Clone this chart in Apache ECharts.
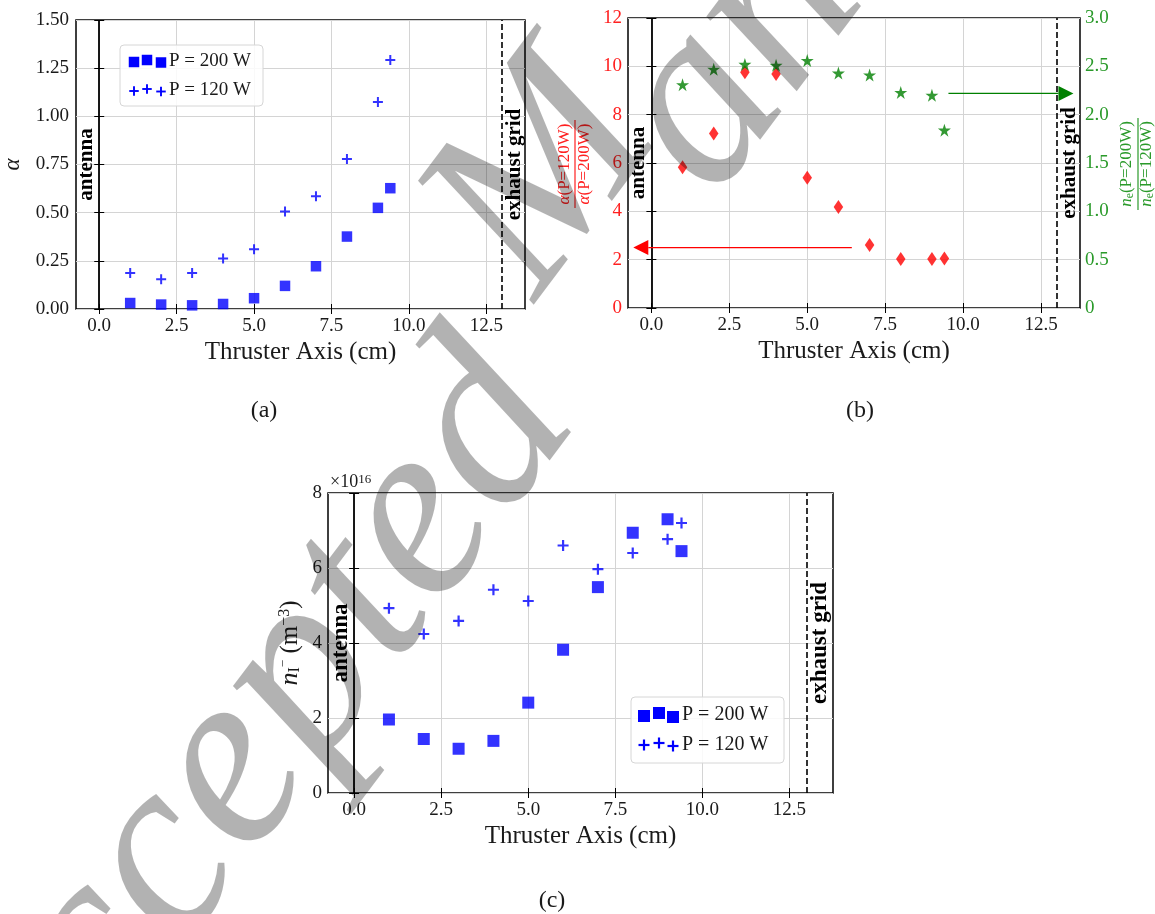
<!DOCTYPE html>
<html><head><meta charset="utf-8">
<script src="https://cdn.jsdelivr.net/npm/echarts@6/dist/echarts.min.js"></script>
<style>html,body{margin:0;padding:0;background:#fff}#c{width:1155px;height:914px}</style>
</head><body><div id="c"></div>
<script>
// ---------------- data ----------------
const positions = [1, 2, 3, 4, 5, 6, 7, 8, 9, 9.4];               // thruster axis (cm)
const alpha200W = [0.031, 0.023, 0.019, 0.026, 0.056, 0.120, 0.222, 0.376, 0.525, 0.627];
const alpha120W = [0.187, 0.154, 0.187, 0.262, 0.310, 0.506, 0.585, 0.779, 1.074, 1.292];
const alphaRatio = [5.82, 7.22, 9.76, 9.68, 5.39, 4.18, 2.61, 2.03, 2.03, 2.05];   // α(120W)/α(200W)
const neRatio = [2.31, 2.47, 2.52, 2.51, 2.56, 2.43, 2.41, 2.23, 2.20, 1.84];       // ne(200W)/ne(120W)
const nIon200W_e16 = [1.96, 1.44, 1.18, 1.39, 2.41, 3.82, 5.49, 6.94, 7.30, 6.45]; // ×1e16 m^-3
const nIon120W_e16 = [4.93, 4.24, 4.59, 5.42, 5.12, 6.60, 5.97, 6.40, 6.77, 7.20];
const xTicks = [0, 2.5, 5, 7.5, 10, 12.5];
const antennaPos = 0;
const exhaustGridPos = 13;
const redArrow = [6.43, 2.5, -0.58, 2.5];     // tail x, tail y (left axis), tip x, tip y
const greenArrow = [9.53, 2.22, 13.54, 2.22]; // tail x, tail y (right axis), tip x, tip y

// ---------------- styling ----------------
const SERIF = 'Liberation Serif';
const INK = '#1a1a1a';
const BLUE = '#0000ff', RED = '#ff0000', GREEN = '#008000';
const plusPath = 'path://M4,0H6V4H10V6H6V10H4V6H0V4H4Z';
const starPath = 'path://M50,2L61.2,36.3H97.6L68.2,57.5L79.4,91.9L50,70.6L20.6,91.9L31.8,57.5L2.4,36.3H38.8Z';
const pts = ys => positions.map((x, i) => [x, ys[i]]);

const chart = echarts.init(document.getElementById('c'), null, {renderer: 'canvas'});

const grids = [
  {left: 76, top: 20, width: 449, height: 289},
  {left: 628, top: 18, width: 452, height: 290},
  {left: 328, top: 493, width: 505, height: 300}
].map(g => Object.assign(g, {show: true, borderColor: '#000', borderWidth: 1.5, backgroundColor: 'transparent', containLabel: false, outerBoundsMode: 'none'}));

const tickStyle = {inside: true, length: 5, lineStyle: {color: '#000', width: 1}};
const labelBase = {fontFamily: SERIF, fontSize: 19, color: INK};
const gridLine = {show: true, lineStyle: {color: '#d4d4d4', width: 1}};

function xAxesFor(gi) {
  const base = {type: 'value', gridIndex: gi, min: -0.75, max: 13.75};
  return [
    Object.assign({}, base, {
      position: 'bottom', name: 'Thruster Axis (cm)', nameLocation: 'middle', nameGap: 31,
      nameTextStyle: {fontFamily: SERIF, fontSize: 25, color: INK},
      axisLine: {show: false},
      axisTick: Object.assign({customValues: xTicks}, tickStyle),
      axisLabel: Object.assign({customValues: xTicks, formatter: v => v.toFixed(1), margin: 8}, labelBase),
      splitLine: gridLine
    }),
    Object.assign({}, base, {
      position: 'top', axisLine: {show: false},
      axisTick: Object.assign({customValues: xTicks}, tickStyle),
      axisLabel: {show: false}, splitLine: {show: false}
    })
  ];
}

const xAxis = [].concat(xAxesFor(0), xAxesFor(1), xAxesFor(2));

const yAxis = [
  // (a)
  {type: 'value', gridIndex: 0, position: 'left', min: 0, max: 1.5, interval: 0.25,
   name: 'α', nameLocation: 'middle', nameGap: 52, nameRotate: 90,
   nameTextStyle: {fontFamily: SERIF, fontSize: 23, fontStyle: 'italic', color: INK},
   axisLine: {show: false}, axisTick: tickStyle,
   axisLabel: Object.assign({formatter: v => v.toFixed(2), margin: 7}, labelBase), splitLine: gridLine},
  {type: 'value', gridIndex: 0, position: 'right', min: 0, max: 1.5, interval: 0.25,
   axisLine: {show: false}, axisTick: tickStyle, axisLabel: {show: false}, splitLine: {show: false}},
  // (b)
  {type: 'value', gridIndex: 1, position: 'left', min: 0, max: 12, interval: 2,
   axisLine: {show: false}, axisTick: tickStyle,
   axisLabel: Object.assign({}, labelBase, {color: '#ff2020', margin: 6}), splitLine: gridLine},
  {type: 'value', gridIndex: 1, position: 'right', min: 0, max: 3, interval: 0.5,
   axisLine: {show: false}, axisTick: tickStyle,
   axisLabel: Object.assign({}, labelBase, {color: '#2a9a2a', margin: 5, formatter: v => v === 0 ? '0' : v.toFixed(1)}),
   splitLine: {show: false}},
  // (c)
  {type: 'value', gridIndex: 2, position: 'left', min: 0, max: 8, interval: 2,
   name: '{n|n}{s|I}{p|−}{r| (m}{q|−3}{r|)}', nameLocation: 'middle', nameGap: 25, nameRotate: 90,
   nameTextStyle: {color: INK, fontFamily: SERIF, rich: {
     n: {fontStyle: 'italic', fontSize: 26, fontFamily: SERIF, color: INK},
     s: {fontSize: 16, fontFamily: SERIF, verticalAlign: 'bottom', color: INK},
     p: {fontSize: 13, fontFamily: SERIF, verticalAlign: 'top', color: INK},
     r: {fontSize: 25, fontFamily: SERIF, color: INK},
     q: {fontSize: 16, fontFamily: SERIF, verticalAlign: 'top', color: INK}
   }},
   axisLine: {show: false}, axisTick: tickStyle,
   axisLabel: Object.assign({margin: 6}, labelBase), splitLine: gridLine},
  {type: 'value', gridIndex: 2, position: 'right', min: 0, max: 8, interval: 2,
   axisLine: {show: false}, axisTick: tickStyle, axisLabel: {show: false}, splitLine: {show: false}}
];

function vLines(fs) {
  const lab = (text, pos) => ({show: true, formatter: text, position: pos, distance: 2,
    color: '#000', fontFamily: SERIF, fontWeight: 'bold', fontSize: fs});
  return [
    {xAxis: antennaPos, lineStyle: {color: '#000', width: 1.8, type: 'solid'}, label: lab('antenna', 'insideMiddleTop')},
    {xAxis: exhaustGridPos, lineStyle: {color: '#000', width: 1.6, type: [6, 3]}, label: lab('exhaust grid', 'insideMiddleBottom')}
  ];
}
function markLine(data) {
  return {silent: true, animation: false, symbol: ['none', 'none'], label: {show: false}, data: data, z: 3};
}
// arrow drawn through the axes: tail/tip converted by api.coord
function arrowSeries(a, color, yIdx) {
  return {type: 'custom', xAxisIndex: 2, yAxisIndex: yIdx, silent: true, z: 3, clip: false,
    data: [a],
    renderItem: function (params, api) {
      const p0 = api.coord([api.value(0), api.value(1)]);
      const p1 = api.coord([api.value(2), api.value(3)]);
      const dx = p1[0] - p0[0], dy = p1[1] - p0[1];
      const len = Math.sqrt(dx * dx + dy * dy) || 1;
      const ux = dx / len, uy = dy / len;
      const L = 15, W = 7.5;
      const bx = p1[0] - ux * L, by = p1[1] - uy * L;
      return {type: 'group', children: [
        {type: 'line', shape: {x1: p0[0], y1: p0[1], x2: bx, y2: by}, style: {stroke: color, lineWidth: 1.3}},
        {type: 'polygon', shape: {points: [[p1[0], p1[1]], [bx - uy * W, by + ux * W], [bx + uy * W, by - ux * W]]},
         style: {fill: color}}
      ]};
    }};
}

const series = [
  {type: 'scatter', name: 'P = 200 W', xAxisIndex: 0, yAxisIndex: 0, data: pts(alpha200W),
   symbol: 'rect', symbolSize: 10.5, itemStyle: {color: BLUE}, markLine: markLine(vLines(21))},
  {type: 'scatter', name: 'P = 120 W', xAxisIndex: 0, yAxisIndex: 0, data: pts(alpha120W),
   symbol: plusPath, symbolSize: 10, itemStyle: {color: BLUE}},
  {type: 'scatter', name: 'alpha ratio', xAxisIndex: 2, yAxisIndex: 2, data: pts(alphaRatio),
   symbol: 'diamond', symbolSize: [9.5, 14], itemStyle: {color: RED}, markLine: markLine(vLines(21))},
  arrowSeries(redArrow, RED, 2),
  {type: 'scatter', name: 'ne ratio', xAxisIndex: 2, yAxisIndex: 3, data: pts(neRatio),
   symbol: starPath, symbolSize: 13, itemStyle: {color: GREEN}},
  arrowSeries(greenArrow, GREEN, 3),
  {type: 'scatter', name: 'P = 200 W', xAxisIndex: 4, yAxisIndex: 4, data: pts(nIon200W_e16),
   symbol: 'rect', symbolSize: 12, itemStyle: {color: BLUE}, markLine: markLine(vLines(23))},
  {type: 'scatter', name: 'P = 120 W', xAxisIndex: 4, yAxisIndex: 4, data: pts(nIon120W_e16),
   symbol: plusPath, symbolSize: 11, itemStyle: {color: BLUE}}
];

// ---------------- graphic annotations (legend, labels) ----------------
function txt(x, y, text, size, extra) {
  return {type: 'text', x: x, y: y, silent: true, style: Object.assign({
    text: text, fill: INK, fontFamily: SERIF, fontSize: size,
    align: 'left', verticalAlign: 'middle', textAlign: 'left', textVerticalAlign: 'middle'
  }, extra || {})};
}
function sq(cx, cy, s) {
  return [{type: 'rect', silent: true, z: 11, shape: {x: cx - s / 2, y: cy - s / 2, width: s, height: s}, style: {fill: BLUE}}];
}
function plus(cx, cy, s) {
  const t = s * 0.2;
  return [
    {type: 'rect', silent: true, z: 11, shape: {x: cx - s / 2, y: cy - t / 2, width: s, height: t}, style: {fill: BLUE}},
    {type: 'rect', silent: true, z: 11, shape: {x: cx - t / 2, y: cy - s / 2, width: t, height: s}, style: {fill: BLUE}}
  ];
}
function legend(box, rows, s, fs, textX) {
  let els = [{type: 'rect', silent: true, shape: {x: box[0], y: box[1], width: box[2], height: box[3], r: 4},
    style: {fill: 'rgba(255,255,255,0.85)', stroke: '#d6d6d6', lineWidth: 1}, z: 10}];
  rows.forEach(r => {
    r.marks.forEach(m => { els = els.concat(r.kind === 'sq' ? sq(m[0], m[1], s) : plus(m[0], m[1], s - 1)); });
    els.push(Object.assign(txt(textX, r.y, r.label, fs), {z: 11}));
  });
  return els;
}
function fraction(cx, cy, num, den, color, half, dNum, dDen, fs) {
  const rich = {
    i: {fontStyle: 'italic', fontFamily: SERIF, fontSize: fs, fill: color},
    r: {fontFamily: SERIF, fontSize: fs, fill: color},
    s: {fontFamily: SERIF, fontSize: fs * 0.7, fill: color, verticalAlign: 'bottom'}
  };
  const t = (y, text) => ({type: 'text', x: 0, y: y, style: {text: text, rich: rich, fill: color,
    fontFamily: SERIF, fontSize: fs, align: 'center', verticalAlign: 'middle', textAlign: 'center', textVerticalAlign: 'middle'}});
  return {type: 'group', x: cx, y: cy, rotation: Math.PI / 2, silent: true, children: [
    {type: 'line', shape: {x1: -half, y1: 0, x2: half, y2: 0}, style: {stroke: color, lineWidth: 1.2}},
    t(dNum, num), t(dDen, den)
  ]};
}
function center(x, y, text, size) {
  return txt(x, y, text, size, {align: 'center', textAlign: 'center'});
}
function watermark(x, y, text) {
  return {type: 'text', x: x, y: y, rotation: 53 * Math.PI / 180, silent: true, z: 100,
    style: {text: text, fill: 'rgba(0,0,0,0.3)', fontFamily: SERIF, fontStyle: 'italic', fontSize: 255,
      align: 'left', verticalAlign: 'middle', textAlign: 'left', textVerticalAlign: 'middle'}};
}

const graphic = [].concat(
  legend([120, 45, 143, 61], [
    {kind: 'sq', marks: [[134, 62], [147, 60], [161, 62.5]], y: 61, label: 'P = 200 W'},
    {kind: 'plus', marks: [[134, 91], [147, 89], [161, 91.5]], y: 90, label: 'P = 120 W'}
  ], 10.5, 19, 169),
  legend([631, 697, 153, 66], [
    {kind: 'sq', marks: [[644, 716], [659, 713], [673, 717]], y: 715, label: 'P = 200 W'},
    {kind: 'plus', marks: [[644, 745], [659, 743], [673, 746]], y: 745, label: 'P = 120 W'}
  ], 12, 20, 682),
  [
    fraction(575, 164, '{i|α}{r|(P=120W)}', '{i|α}{r|(P=200W)}', '#ff2020', 44, -10, 10, 17),
    fraction(1138, 164, '{i|n}{s|e}{r|(P=200W)}', '{i|n}{s|e}{r|(P=120W)}', '#2a9a2a', 46, -11, 9, 17),
    txt(330, 482, '×10{s|16}', 18, {rich: {s: {fontSize: 13, fontFamily: SERIF, verticalAlign: 'top', fill: INK}}}),
    center(264, 411, '(a)', 24),
    center(860, 411, '(b)', 24),
    center(552, 901, '(c)', 24),
    // watermark overlay
    watermark(-35, 1125, 'Accepted'),
    watermark(482, 262, 'M'),
    watermark(661, 160, 'anuscript')
  ]
);

chart.setOption({
  animation: false,
  backgroundColor: '#fff',
  grid: grids,
  xAxis: xAxis,
  yAxis: yAxis,
  series: series,
  graphic: graphic
});
</script>
</body></html>
